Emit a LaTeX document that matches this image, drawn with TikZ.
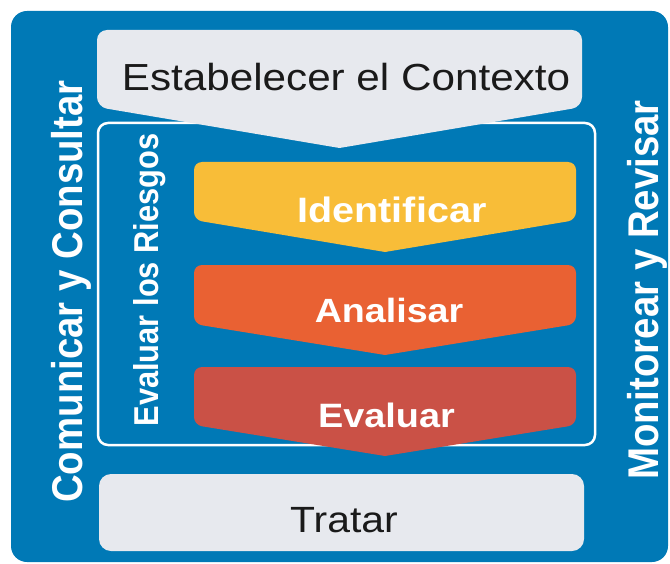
\documentclass[tikz,border=0pt]{standalone}
\usepackage{fontspec}
\setmainfont{Liberation Sans}
\definecolor{bgblue}{HTML}{0079B6}
\definecolor{lightgray}{HTML}{E7E9EE}
\definecolor{cyellow}{HTML}{F8BD38}
\definecolor{corange}{HTML}{E96133}
\definecolor{cred}{HTML}{CA5146}
\definecolor{darktext}{HTML}{1A1A1A}
\newcommand{\fsz}[1]{\fontsize{#1bp}{#1bp}\selectfont}
\begin{document}
\begin{tikzpicture}[x=1bp,y=-1bp,
  hlab/.style={anchor=base, xscale=1.12, inner sep=0pt},
  vlab/.style={anchor=base, rotate=90, yscale=1.12, inner sep=0pt, text=white},
  chev/.style={rounded corners=8bp}]
\useasboundingbox (0,0) rectangle (670,564);
% outer blue panel
\fill[bgblue, rounded corners=16bp] (11,11) rectangle (668,562);
% inner frame
\draw[white, line width=2.5bp, rounded corners=10bp] (98,123) rectangle (595,445);
% Establecer shape
\fill[lightgray] [rounded corners=10bp] (97,30) -- (97,107) [sharp corners] -- (339.5,148) [rounded corners=10bp] -- (582,107) -- (582,30) -- cycle;
% chevrons
\fill[cyellow] [chev] (194,162) -- (194,220) [sharp corners] -- (385,252) [chev] -- (576,220) -- (576,162) -- cycle;
\fill[corange] [chev] (194,265) -- (194,324) [sharp corners] -- (385,355) [chev] -- (576,324) -- (576,265) -- cycle;
\fill[cred] [chev] (194,367) -- (194,425) [sharp corners] -- (385,456) [chev] -- (576,425) -- (576,367) -- cycle;
% Tratar box
\fill[lightgray, rounded corners=12bp] (99,474) rectangle (584,551);
% labels
\node[hlab, text=darktext, font=\fsz{37.7}] (ctx) at (346,91) {Estabelecer el Contexto};
\node[hlab, text=white, font=\fsz{35.3}\bfseries] (ident) at (392,222) {Identificar};
\node[hlab, text=white, font=\fsz{33.6}\bfseries] (anal) at (389,322) {Analisar};
\node[hlab, text=white, font=\fsz{33.8}\bfseries] (eval) at (386.5,427) {Evaluar};
\node[hlab, text=darktext, font=\fsz{36.5}] (trat) at (344,532) {Tratar};
\node[vlab, font=\fsz{38.4}\bfseries] (com) at (82,291.5) {Comunicar y Consultar};
\node[vlab, font=\fsz{38.4}\bfseries] (mon) at (658,290) {Monitorear y Revisar};
\node[vlab, font=\fsz{30.8}\bfseries] (riesgo) at (158,280) {Evaluar los Riesgos};
\end{tikzpicture}
\end{document}
